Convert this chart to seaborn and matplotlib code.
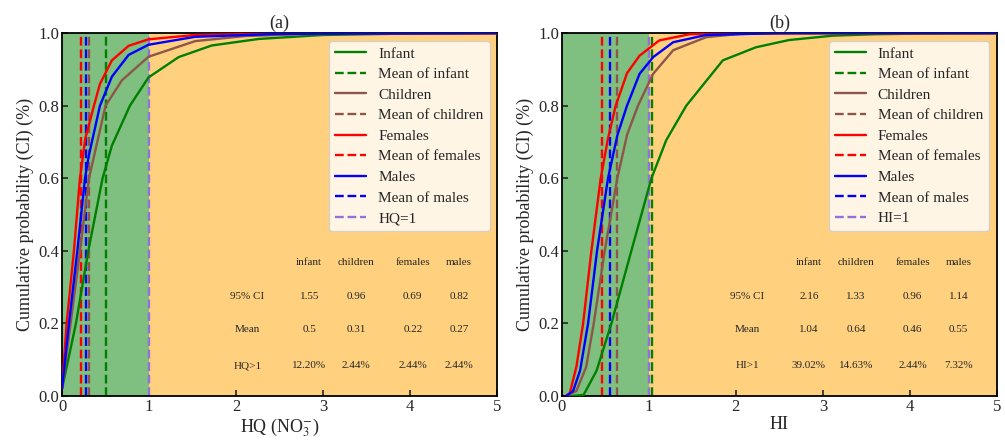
import matplotlib
matplotlib.use("Agg")
import matplotlib.pyplot as plt
import seaborn as sns
import pandas as pd

sns.set_style("ticks")
plt.rcParams['font.family'] = ['Liberation Serif', 'DejaVu Serif']
plt.rcParams['mathtext.fontset'] = 'stix'

# ---------------- Data ----------------
groups = ["infant", "children", "females", "males"]
labels = ["Infant", "Children", "Females", "Males"]
colors = ["green", "#8c564b", "red", "blue"]

# Panel (a): HQ (NO3-)
hq_infant_x = [0, 0.16, 0.302, 0.466, 0.573, 0.78, 0.994, 1.34, 1.72, 2.26, 3.0, 4.0, 5.0]
hq_infant_y = [0.02, 0.2, 0.4, 0.6, 0.69, 0.8, 0.878, 0.934, 0.966, 0.984, 0.995, 0.999, 1.0]
hq_children_x = [0, 0.099, 0.206, 0.31, 0.5, 0.688, 0.994, 1.53, 2.1, 3.0, 5.0]
hq_children_y = [0.02, 0.2, 0.4, 0.6, 0.8, 0.87, 0.935, 0.978, 0.992, 0.999, 1.0]
hq_females_x = [0, 0.053, 0.137, 0.206, 0.268, 0.367, 0.436, 0.573, 0.765, 0.994, 1.53, 2.5, 5.0]
hq_females_y = [0.02, 0.2, 0.4, 0.6, 0.71, 0.8, 0.86, 0.925, 0.965, 0.983, 0.995, 0.999, 1.0]
hq_males_x = [0, 0.08, 0.176, 0.264, 0.306, 0.436, 0.573, 0.765, 0.994, 1.53, 2.5, 5.0]
hq_males_y = [0.02, 0.2, 0.4, 0.6, 0.66, 0.8, 0.88, 0.94, 0.968, 0.99, 0.998, 1.0]

# Panel (b): HI
hi_infant_x = [0.1, 0.25, 0.4, 0.57, 0.799, 1.03, 1.2, 1.43, 1.85, 2.23, 2.61, 3.11, 3.6, 4.2, 5.0]
hi_infant_y = [0.0, 0.003, 0.07, 0.2, 0.4, 0.6, 0.705, 0.8, 0.925, 0.961, 0.981, 0.993, 0.997, 0.999, 1.0]
hi_children_x = [0.05, 0.168, 0.28, 0.367, 0.493, 0.638, 0.75, 0.875, 1.05, 1.28, 1.66, 2.05, 3.0, 5.0]
hi_children_y = [0.0, 0.014, 0.08, 0.2, 0.4, 0.6, 0.72, 0.8, 0.888, 0.953, 0.989, 0.998, 1.0, 1.0]
hi_females_x = [0.05, 0.092, 0.168, 0.245, 0.34, 0.447, 0.531, 0.619, 0.75, 0.894, 1.12, 1.47, 2.2, 5.0]
hi_females_y = [0.0, 0.008, 0.081, 0.2, 0.4, 0.6, 0.71, 0.8, 0.89, 0.938, 0.98, 0.997, 1.0, 1.0]
hi_males_x = [0.05, 0.13, 0.21, 0.302, 0.405, 0.531, 0.64, 0.749, 0.894, 1.05, 1.28, 1.66, 2.5, 5.0]
hi_males_y = [0.0, 0.014, 0.07, 0.2, 0.4, 0.6, 0.72, 0.8, 0.888, 0.934, 0.975, 0.995, 1.0, 1.0]

hq_means = [0.5, 0.31, 0.22, 0.27]
hi_means = [1.04, 0.64, 0.46, 0.55]

table_cols = ["infant", "children", "females", "males"]
hq_ci = ["1.55", "0.96", "0.69", "0.82"]
hq_mean_txt = ["0.5", "0.31", "0.22", "0.27"]
hq_exceed = ["12.20%", "2.44%", "2.44%", "2.44%"]
hi_ci = ["2.16", "1.33", "0.96", "1.14"]
hi_mean_txt = ["1.04", "0.64", "0.46", "0.55"]
hi_exceed = ["39.02%", "14.63%", "2.44%", "7.32%"]

panels = [
    dict(title="(a)", xlabel=r"HQ (NO$_3^{-}$)", limname="HQ",
         xs=[hq_infant_x, hq_children_x, hq_females_x, hq_males_x],
         ys=[hq_infant_y, hq_children_y, hq_females_y, hq_males_y],
         means=hq_means, rows=[hq_ci, hq_mean_txt, hq_exceed]),
    dict(title="(b)", xlabel="HI", limname="HI",
         xs=[hi_infant_x, hi_children_x, hi_females_x, hi_males_x],
         ys=[hi_infant_y, hi_children_y, hi_females_y, hi_males_y],
         means=hi_means, rows=[hi_ci, hi_mean_txt, hi_exceed]),
]

fig = plt.figure(figsize=(10.05, 4.42), dpi=100)
axes = [fig.add_axes([0.0617, 0.104, 0.433, 0.821]),
        fig.add_axes([0.559, 0.104, 0.433, 0.821])]

col_x = [2.84, 3.38, 4.03, 4.56]
row_y = [0.273, 0.182, 0.083]
head_y = 0.367
row_label_x = 2.13

for ax, p in zip(axes, panels):
    ax.axvspan(0, 1, color="green", alpha=0.5, lw=0, zorder=0)
    ax.axvspan(1, 5, color="orange", alpha=0.5, lw=0, zorder=0)
    for i in range(4):
        df = pd.DataFrame({"x": p["xs"][i], "y": p["ys"][i]})
        sns.lineplot(data=df, x="x", y="y", ax=ax, color=colors[i], lw=1.7,
                     label=labels[i], zorder=3)
        ax.axvline(p["means"][i], color=colors[i], ls="--", lw=1.7,
                   label="Mean of " + groups[i], zorder=2)
    ax.axvline(1, color="mediumpurple", ls="--", lw=1.7,
               label=p["limname"] + "=1", zorder=2)

    ax.set_xlim(0, 5)
    ax.set_ylim(0, 1)
    ax.set_xticks([0, 1, 2, 3, 4, 5])
    ax.set_yticks([0, 0.2, 0.4, 0.6, 0.8, 1.0])
    ax.set_yticklabels(["0.0", "0.2", "0.4", "0.6", "0.8", "1.0"])
    ax.tick_params(direction="in", labelsize=12, length=4, width=1.2, pad=2)
    for s in ax.spines.values():
        s.set_linewidth(1.3)
        s.set_color("black")
    ax.set_xlabel(p["xlabel"], fontsize=13, labelpad=1)
    ax.set_ylabel("Cumulative probability (CI) (%)", fontsize=13, labelpad=3)
    ax.set_title(p["title"], fontsize=13, pad=4)

    leg = ax.legend(loc="upper right", fontsize=11, frameon=True,
                    fancybox=True, framealpha=0.8, borderaxespad=0.5,
                    labelspacing=0.45, handlelength=2.0)
    leg.get_frame().set_edgecolor("#cccccc")

    for cx, name in zip(col_x, table_cols):
        ax.text(cx, head_y, name, ha="center", va="center", fontsize=8)
    row_names = ["95% CI", "Mean", p["limname"] + ">1"]
    for ry, rname, vals in zip(row_y, row_names, p["rows"]):
        ax.text(row_label_x, ry, rname, ha="center", va="center", fontsize=8)
        for cx, v in zip(col_x, vals):
            ax.text(cx, ry, v, ha="center", va="center", fontsize=8)

fig.savefig("out.png", dpi=100)
